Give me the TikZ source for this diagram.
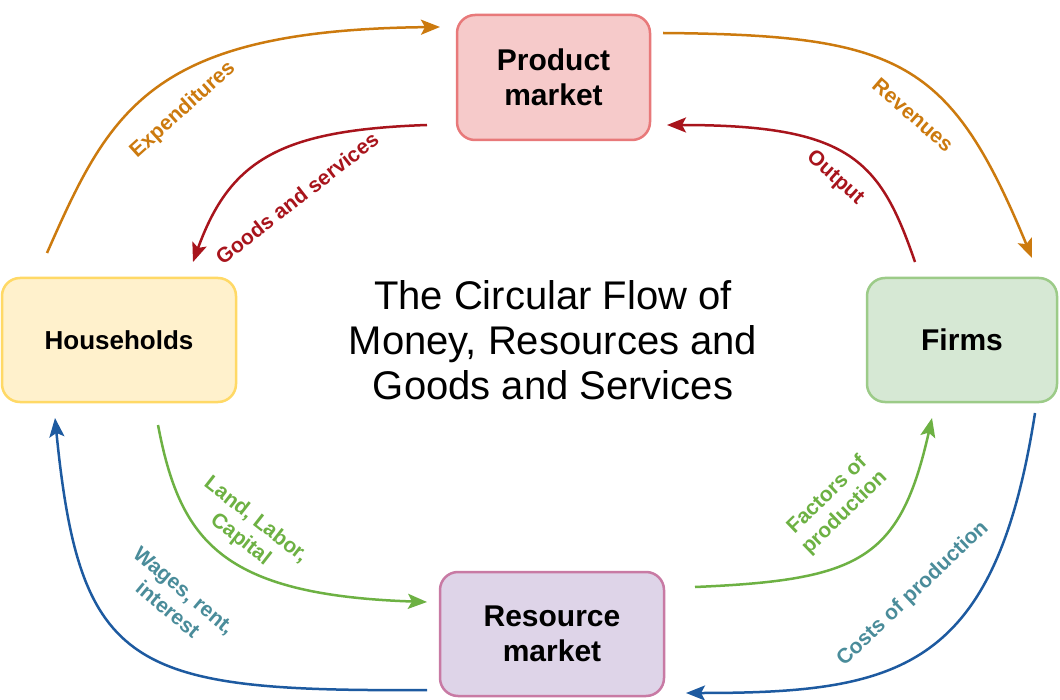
\documentclass[tikz,border=0pt]{standalone}
\usepackage{fontspec}
\setmainfont{Liberation Sans}
\usetikzlibrary{arrows.meta,calc}
\definecolor{cOrange}{HTML}{CC7A0E}
\definecolor{cRed}{HTML}{A8141C}
\definecolor{cGreen}{HTML}{6DB143}
\definecolor{cBlue}{HTML}{1D5AA0}
\definecolor{cTeal}{HTML}{4A8C9A}
\definecolor{pmFill}{HTML}{F6CACA}
\definecolor{pmLine}{HTML}{E8797A}
\definecolor{hhFill}{HTML}{FFF1CC}
\definecolor{hhLine}{HTML}{FFD966}
\definecolor{fiFill}{HTML}{D6E8D4}
\definecolor{fiLine}{HTML}{9CCB88}
\definecolor{rmFill}{HTML}{DED4E8}
\definecolor{rmLine}{HTML}{C87AA4}
\begin{document}
\begin{tikzpicture}[x=1pt,y=-1pt,
  box/.style={draw, rectangle, rounded corners=18pt, line width=2.5pt, outer sep=0pt,
    align=center, inner sep=0pt, font=\fontsize{30}{35}\selectfont\bfseries},
  flow/.style={line width=2.5pt, -{Stealth[length=19pt,width=15pt,inset=4pt]}},
  lbl/.style={font=\fontsize{21}{25}\selectfont\bfseries, align=center, inner sep=0pt}]
\fill[white] (0,0) rectangle (1060,700);
\useasboundingbox (0,0) rectangle (1060,700);

% boxes
\node[box, fill=pmFill, draw=pmLine, minimum width=193pt, minimum height=125pt] (pm) at (553.5,77.5) {Product\\market};
\node[box, fill=hhFill, draw=hhLine, minimum width=234pt, minimum height=124pt,
  font=\fontsize{26}{30}\selectfont\bfseries] (hh) at (119,340) {Households};
\node[box, fill=fiFill, draw=fiLine, minimum width=190pt, minimum height=124pt] (fi) at (962,340) {Firms};
\node[box, fill=rmFill, draw=rmLine, minimum width=224pt, minimum height=124pt] (rm) at (552,634) {Resource\\market};

% title
\node[align=center, inner sep=0pt, font=\fontsize{40}{45}\selectfont] (title) at (553,340)
  {The Circular Flow of\\Money, Resources and\\Goods and Services};

% connectors
\draw[flow, cOrange] ($(hh.north west)+(45,-25)$) .. controls (110,110) and (150,30) .. ($(pm.north west)+(-17,12)$);
\draw[flow, cRed] ($(pm.south west)+(-30,-15)$) .. controls (280,130) and (230,160) .. ($(hh.north east)+(-43,-16)$);
\draw[flow, cOrange] ($(pm.north east)+(13,18)$) .. controls (900,35) and (950,60) .. ($(fi.north east)+(-25,-20)$);
\draw[flow, cRed] ($(fi.north west)+(48,-16)$) .. controls (880,160) and (850,125) .. ($(pm.south east)+(17,-15)$);
\draw[flow, cGreen] ($(hh.south west)+(156,23)$) .. controls (180,540) and (220,595) .. ($(rm.west)+(-13,-32)$);
\draw[flow, cBlue] ($(rm.south west)+(-13,-6)$) .. controls (130,692) and (80,670) .. ($(hh.south west)+(53,16)$);
\draw[flow, cGreen] ($(rm.north east)+(31,15)$) .. controls (860,580) and (900,560) .. ($(fi.south west)+(65,16)$);
\draw[flow, cBlue] ($(fi.south east)+(-22,11)$) .. controls (995,670) and (900,693) .. ($(rm.south east)+(22,-3)$);

% labels
\node[lbl, cOrange, rotate=42] (lexp) at (183,110) {Expenditures};
\node[lbl, cRed, rotate=38] (lgoods) at (297,198) {Goods and services};
\node[lbl, cOrange, rotate=-41] (lrev) at (913,115) {Revenues};
\node[lbl, cRed, rotate=-42] (lout) at (835,178) {Output};
\node[lbl, cGreen, rotate=-38] (lland) at (248,530) {Land, Labor,\\Capital};
\node[lbl, cTeal, rotate=-40] (lwage) at (176,600) {Wages, rent,\\interest};
\node[lbl, cGreen, rotate=44] (lfact) at (836,504) {Factors of\\production};
\node[lbl, cTeal, rotate=43.5] (lcost) at (913,594) {Costs of production};
\end{tikzpicture}
\end{document}
